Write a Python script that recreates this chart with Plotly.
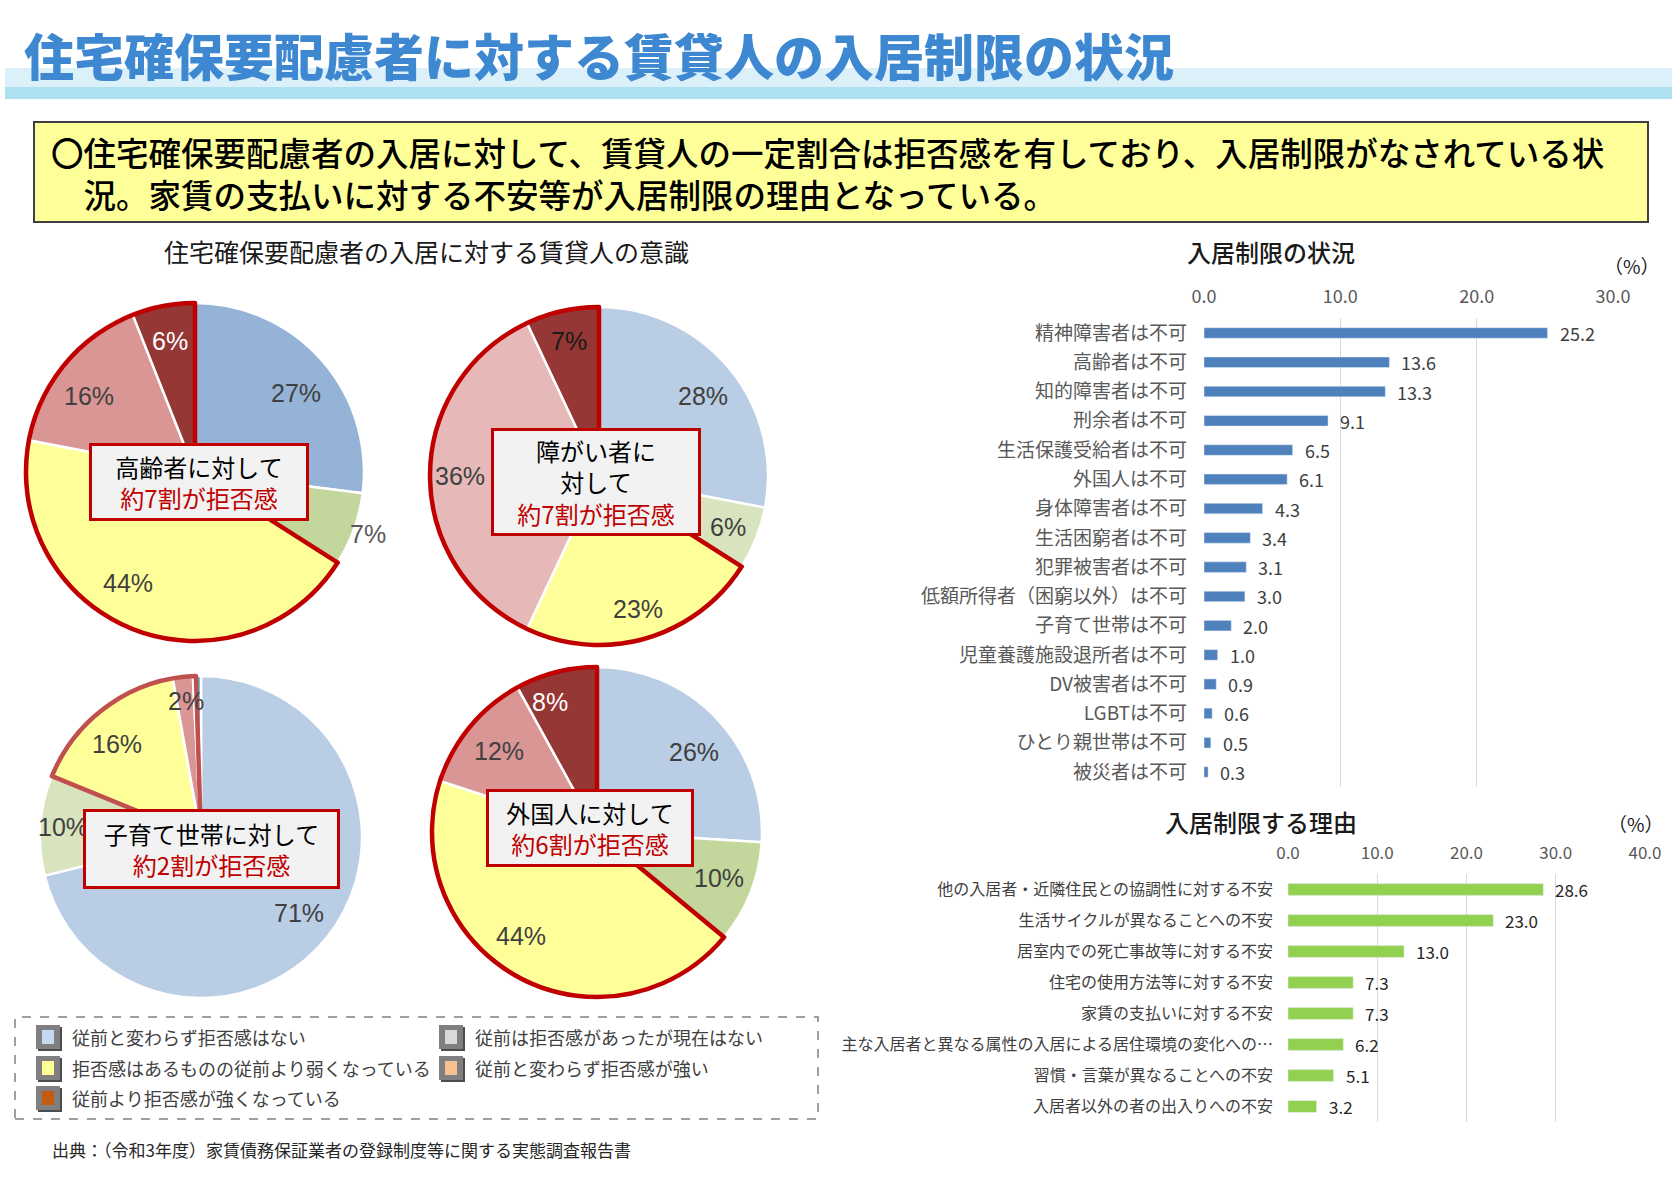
import math
import plotly.graph_objects as go

W, H = 1675, 1180

# ---------------- data ----------------
page_title = "住宅確保要配慮者に対する賃貸人の入居制限の状況"
summary_lines = [
    "〇住宅確保要配慮者の入居に対して、賃貸人の一定割合は拒否感を有しており、入居制限がなされている状",
    "況。家賃の支払いに対する不安等が入居制限の理由となっている。",
]
pie_section_title = "住宅確保要配慮者の入居に対する賃貸人の意識"
pie_subjects = ["高齢者に対して", "障がい者に<br>対して", "子育て世帯に対して", "外国人に対して"]
pie_claims = ["約7割が拒否感", "約7割が拒否感", "約2割が拒否感", "約6割が拒否感"]

elderly = [27, 7, 44, 16, 6]
disabled = [28, 6, 23, 36, 7]
child_rearing = [71, 10, 16, 2, 0.3, 0.5]
foreigners = [26, 10, 44, 12, 8]

legend_labels = [
    "従前と変わらず拒否感はない",
    "従前は拒否感があったが現在はない",
    "拒否感はあるものの従前より弱くなっている",
    "従前と変わらず拒否感が強い",
    "従前より拒否感が強くなっている",
]

restriction_title = "入居制限の状況"
restriction_cats = [
    "精神障害者は不可", "高齢者は不可", "知的障害者は不可", "刑余者は不可",
    "生活保護受給者は不可", "外国人は不可", "身体障害者は不可", "生活困窮者は不可",
    "犯罪被害者は不可", "低額所得者（困窮以外）は不可", "子育て世帯は不可",
    "児童養護施設退所者は不可", "DV被害者は不可", "LGBTは不可", "ひとり親世帯は不可",
    "被災者は不可",
]
restriction_vals = [25.2, 13.6, 13.3, 9.1, 6.5, 6.1, 4.3, 3.4, 3.1, 3.0, 2.0, 1.0, 0.9, 0.6, 0.5, 0.3]
restriction_ticks = [0, 10, 20, 30]

reason_title = "入居制限する理由"
reason_cats = [
    "他の入居者・近隣住民との協調性に対する不安",
    "生活サイクルが異なることへの不安",
    "居室内での死亡事故等に対する不安",
    "住宅の使用方法等に対する不安",
    "家賃の支払いに対する不安",
    "主な入居者と異なる属性の入居による居住環境の変化への…",
    "習慣・言葉が異なることへの不安",
    "入居者以外の者の出入りへの不安",
]
reason_vals = [28.6, 23.0, 13.0, 7.3, 7.3, 6.2, 5.1, 3.2]
reason_ticks = [0, 10, 20, 30, 40]

source_text = "出典：（令和3年度）家賃債務保証業者の登録制度等に関する実態調査報告書"

# ---------------- styles ----------------
JP = "Noto Sans CJK JP"
NUM = "Liberation Sans, Arial, " + JP
NARROW = "Liberation Sans Narrow, " + JP


def px(x):
    return x / W


def py(y):
    return 1 - y / H


# lf: label radius factor, la: label angle offset (deg), lc: label colour
pies = [
    dict(vals=elderly, cx=195, cy=472, r=169,
         colors=["#95b3d7", "#c3d69b", "#ffff99", "#d99694", "#953735"],
         outline="#c00000",
         lf=[0.76, 1.09, 0.77, 0.77, 0.79], la=[3.6, 0, 9.5, -4, 0],
         lc=["#404040", "#595959", "#404040", "#404040", "#ffffff"],
         box=(199, 482, 220, 78)),
    dict(vals=disabled, cx=599, cy=476, r=169,
         colors=["#b9cde5", "#d7e4bd", "#ffff99", "#e6b9b8", "#953735"],
         outline="#c00000",
         lf=[0.78, 0.82, 0.82, 0.82, 0.82], la=[2, 0, 0, 0, 0],
         lc=["#404040", "#404040", "#404040", "#404040", "#1a1a1a"],
         box=(596, 482, 210, 108)),
    dict(vals=child_rearing, cx=201, cy=837, r=161,
         colors=["#b9cde5", "#d7e4bd", "#ffff99", "#d99694", "#953735", "#4bacc6"],
         outline="#c0504d",
         lf=[0.77, 0.86, 0.78, 0.85, 0, 0], la=[0, 0, -3, 0, 0, 0],
         lc=["#404040", "#404040", "#404040", "#404040", "#404040", "#404040"],
         box=(211, 849, 257, 80)),
    dict(vals=foreigners, cx=597, cy=832, r=165,
         colors=["#b9cde5", "#c3d69b", "#ffff99", "#d99694", "#953735"],
         outline="#c00000",
         lf=[0.76, 0.79, 0.78, 0.77, 0.84], la=[3.7, -1, 7.6, 0, -5.3],
         lc=["#404040", "#404040", "#404040", "#404040", "#ffffff"],
         box=(590, 828, 208, 78)),
]

fig = go.Figure()
annotations = []
shapes = []


def text_at(text, x, y, size, color="#000000", family=JP, xanchor="center", weight=None, **kw):
    font = dict(family=family, size=size, color=color)
    if weight is not None:
        font["weight"] = weight
    d = dict(text=text, x=px(x), y=py(y), xref="paper", yref="paper", xanchor=xanchor,
             yanchor="middle", showarrow=False, font=font)
    d.update(kw)
    annotations.append(d)


# ---------------- header ----------------
shapes.append(dict(type="rect", xref="paper", yref="paper", x0=px(5), x1=px(1672), y0=py(87), y1=py(68),
                   fillcolor="#dcf0fa", line=dict(width=0), layer="below"))
shapes.append(dict(type="rect", xref="paper", yref="paper", x0=px(5), x1=px(1672), y0=py(99), y1=py(87),
                   fillcolor="#ade0f0", line=dict(width=0), layer="below"))
text_at(page_title, 22, 54, 50, "#3d88d0", xanchor="left", weight=900)

shapes.append(dict(type="rect", xref="paper", yref="paper", x0=px(34), x1=px(1648), y0=py(222), y1=py(122),
                   fillcolor="#ffff99", line=dict(color="#404040", width=2), layer="below"))
text_at("<br>\u3000".join(summary_lines), 49, 173, 32.5, xanchor="left", weight=500, align="left")

text_at(pie_section_title, 427, 251, 25, "#1a1a1a")

# ---------------- pies ----------------
for i, p in enumerate(pies):
    vals = p["vals"]
    cx, cy, r = p["cx"], p["cy"], p["r"]
    dom = dict(x=[px(cx - r), px(cx + r)], y=[py(cy + r), py(cy - r)])
    fig.add_trace(go.Pie(
        values=vals, labels=[f"s{k}" for k in range(len(vals))],
        marker=dict(colors=p["colors"], line=dict(color="#ffffff", width=2.5)),
        sort=False, direction="clockwise", rotation=0, textinfo="none",
        domain=dom, showlegend=False, hoverinfo="percent"))
    # outline around the "refusing" slices (indices 2-4)
    ov = [sum(vals[:2]), sum(vals[2:5]), sum(vals[5:])]
    fig.add_trace(go.Pie(
        values=ov, labels=["a", "b", "c"],
        marker=dict(colors=["rgba(0,0,0,0)"] * 3,
                    line=dict(color=["rgba(0,0,0,0)", p["outline"], "rgba(0,0,0,0)"], width=[0, 4.5, 0])),
        sort=False, direction="clockwise", rotation=0, textinfo="none",
        domain=dom, showlegend=False, hoverinfo="skip"))
    total = sum(vals)
    cum = 0
    for k, v in enumerate(vals):
        mid = 2 * math.pi * (cum + v / 2) / total + math.radians(p["la"][k])
        cum += v
        if v < 1:
            continue
        f = p["lf"][k]
        lx = cx + f * r * math.sin(mid)
        ly = cy - f * r * math.cos(mid)
        text_at(f"{v:.0f}%", lx, ly, 25, p["lc"][k], family=NUM)

for i, p in enumerate(pies):
    bx, by, bw, bh = p["box"]
    annotations.append(dict(
        text=f"{pie_subjects[i]}<br><span style='color:#c00000'>{pie_claims[i]}</span>",
        x=px(bx), y=py(by), xref="paper", yref="paper", xanchor="center", yanchor="middle",
        showarrow=False, align="center", width=bw - 8, height=bh - 8, borderpad=1,
        bgcolor="#f2f2f2", bordercolor="#c00000", borderwidth=3,
        font=dict(family=JP, size=24, color="#000000")))

# ---------------- legend ----------------
shapes.append(dict(type="rect", xref="paper", yref="paper", x0=px(15), x1=px(818), y0=py(1119), y1=py(1017),
                   fillcolor="rgba(0,0,0,0)", line=dict(color="#808080", width=1.5, dash="dash")))
legend_colors = ["#c6d9f1", "#d9d9d9", "#ffff99", "#fac090", "#c55a11"]
legend_pos = [(48, 1037), (451, 1037), (48, 1068), (451, 1068), (48, 1098)]
for lab, col, (sx, sy) in zip(legend_labels, legend_colors, legend_pos):
    shapes.append(dict(type="rect", xref="paper", yref="paper", x0=px(sx - 10), x1=px(sx + 14),
                       y0=py(sy + 14), y1=py(sy - 10), fillcolor="#4d4d4d", line=dict(width=0)))
    shapes.append(dict(type="rect", xref="paper", yref="paper", x0=px(sx - 12), x1=px(sx + 12),
                       y0=py(sy + 12), y1=py(sy - 12), fillcolor="#7f7f7f", line=dict(width=0)))
    shapes.append(dict(type="rect", xref="paper", yref="paper", x0=px(sx - 6), x1=px(sx + 6),
                       y0=py(sy + 7), y1=py(sy - 7), fillcolor=col, line=dict(width=0)))
    text_at(lab, sx + 22, sy, 18, "#404040", xanchor="left")

text_at(source_text, 50, 1149, 17, "#262626", xanchor="left")

# ---------------- bar chart 1 ----------------
fig.add_trace(go.Bar(x=restriction_vals, y=restriction_cats, orientation="h",
                     marker=dict(color="#4f81bd"), width=0.36, xaxis="x", yaxis="y",
                     showlegend=False, hoverinfo="x+y"))
for c, v in zip(restriction_cats, restriction_vals):
    annotations.append(dict(text=f"{v:.1f}", x=v, y=c, xref="x", yref="y", xanchor="left",
                            yanchor="middle", xshift=10, showarrow=False,
                            font=dict(family=NARROW, size=18, color="#404040")))
text_at(restriction_title, 1271, 252, 24, "#1a1a1a", weight=500)
text_at("（%）", 1632, 265, 19, "#1a1a1a")

# ---------------- bar chart 2 ----------------
fig.add_trace(go.Bar(x=reason_vals, y=reason_cats, orientation="h",
                     marker=dict(color="#92d050"), width=0.38, xaxis="x2", yaxis="y2",
                     showlegend=False, hoverinfo="x+y"))
for c, v in zip(reason_cats, reason_vals):
    annotations.append(dict(text=f"{v:.1f}", x=v, y=c, xref="x2", yref="y2", xanchor="left",
                            yanchor="middle", xshift=10, showarrow=False,
                            font=dict(family=NARROW, size=17, color="#262626")))
text_at(reason_title, 1261, 821, 24, "#1a1a1a", weight=500)
text_at("（%）", 1636, 823, 19, "#1a1a1a")

axis_common = dict(showline=False, zeroline=False, ticks="", gridcolor="#d9d9d9", gridwidth=1.3,
                   tickformat=".1f", side="top", fixedrange=True, automargin=False)
yaxis_common = dict(type="category", categoryorder="array", autorange="reversed", showgrid=False,
                    ticks="", showline=False, zeroline=False, automargin=False, fixedrange=True)

fig.update_layout(
    width=W, height=H, margin=dict(l=0, r=0, t=0, b=0, pad=0, autoexpand=False),
    paper_bgcolor="#ffffff", plot_bgcolor="rgba(0,0,0,0)",
    xaxis=dict(domain=[px(1204), px(1613)], range=[0, 30], tickvals=restriction_ticks, anchor="y",
               tickfont=dict(family=NARROW, size=18, color="#595959"), ticklabelstandoff=10,
               **axis_common),
    yaxis=dict(domain=[py(787), py(318)], categoryarray=restriction_cats, anchor="x",
               ticklabelstandoff=16, tickfont=dict(family=JP, size=19, color="#595959"),
               **yaxis_common),
    xaxis2=dict(domain=[px(1288), px(1645)], range=[0, 40], tickvals=reason_ticks, anchor="y2",
                tickfont=dict(family=NARROW, size=17, color="#595959"), ticklabelstandoff=11,
                **axis_common),
    yaxis2=dict(domain=[py(1122), py(874)], categoryarray=reason_cats, anchor="x2",
                ticklabelstandoff=14, tickfont=dict(family=JP, size=16, color="#404040"),
                **yaxis_common),
    annotations=annotations, shapes=shapes,
)

fig.write_html("out.html", config={"displayModeBar": False},
               post_script="document.body.style.margin='0';document.body.style.overflow='hidden';")
